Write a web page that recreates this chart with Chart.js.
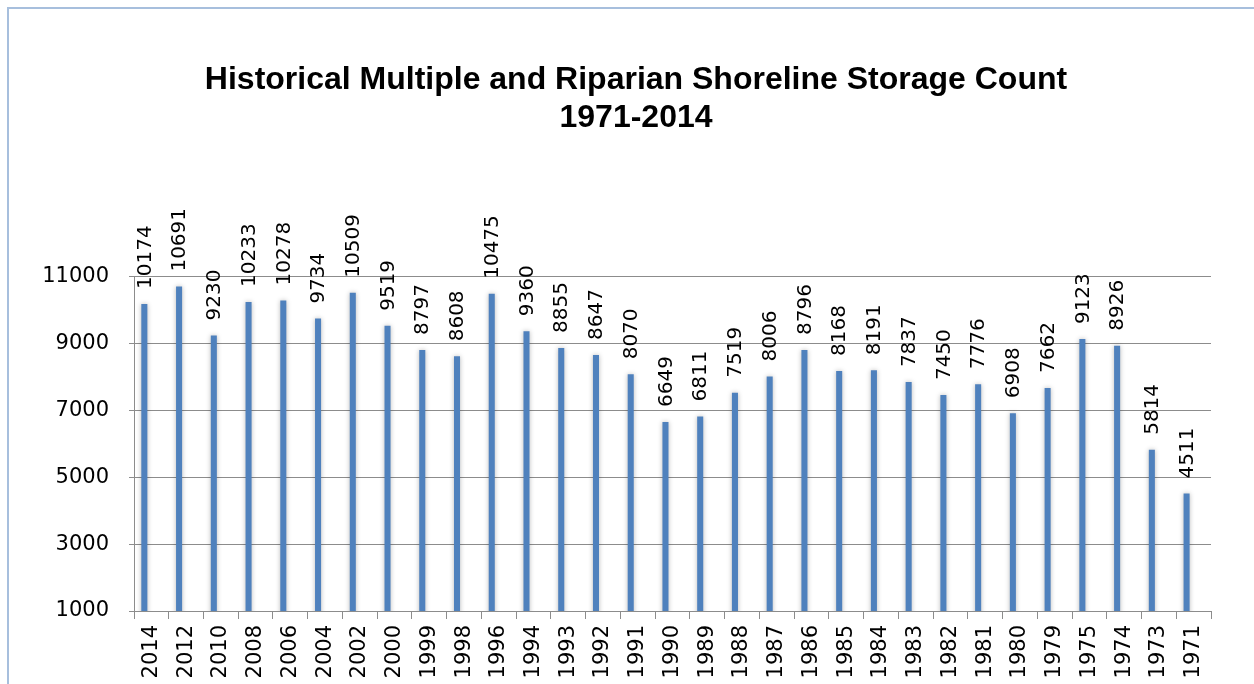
<!DOCTYPE html>
<html>
<head>
<meta charset="utf-8">
<title>Historical Multiple and Riparian Shoreline Storage Count</title>
<script src="https://cdn.jsdelivr.net/npm/chart.js@4/dist/chart.umd.min.js"></script>
<style>
  html, body { margin: 0; padding: 0; background: #fff; overflow: hidden; }
  #wrap { position: relative; width: 1254px; height: 684px; }
  #frame {
    position: absolute; left: 7px; top: 7px; right: -10px; bottom: -10px;
    border-top: 2px solid #a7bfdd; border-left: 2px solid #a7bfdd;
    pointer-events: none;
  }
  canvas { display: block; }
</style>
</head>
<body>
<div id="wrap">
  <canvas id="chart" width="1254" height="684"></canvas>
  <div id="frame"></div>
</div>
<script>
// ── Data ────────────────────────────────────────────────
const YEARS = [
  '2014', '2012', '2010', '2008', '2006', '2004', '2002', '2000', '1999', '1998',
  '1996', '1994', '1993', '1992', '1991', '1990', '1989', '1988', '1987', '1986',
  '1985', '1984', '1983', '1982', '1981', '1980', '1979', '1975', '1974', '1973', '1971',
];
const STORAGE_COUNT = [
  10174, 10691, 9230, 10233, 10278, 9734, 10509, 9519, 8797, 8608,
  10475, 9360, 8855, 8647, 8070, 6649, 6811, 7519, 8006, 8796,
  8168, 8191, 7837, 7450, 7776, 6908, 7662, 9123, 8926, 5814, 4511,
];
const Y_TICKS = [1000, 3000, 5000, 7000, 9000, 11000];
const TITLE_LINES = ['Historical Multiple and Riparian Shoreline Storage Count', '1971-2014'];

const BAR_BLUE = '#4f81bd';
const GRID_GRAY = '#8c8c8c';
const TICK_FONT = { family: '"DejaVu Sans", sans-serif', size: 21 };

// ── Plugins ─────────────────────────────────────────────
// soft glow around the bars, like the Excel shadow effect
const barShadow = {
  id: 'barShadow',
  beforeDatasetsDraw(chart) {
    const ctx = chart.ctx;
    ctx.save();
    ctx.shadowColor = 'rgba(0,0,0,0.28)';
    ctx.shadowBlur = 5;
    ctx.shadowOffsetX = 0;
    ctx.shadowOffsetY = 0;
  },
  afterDatasetsDraw(chart) {
    chart.ctx.restore();
  },
};

// vertical value labels above each bar
const valueLabels = {
  id: 'valueLabels',
  afterDatasetsDraw(chart) {
    const ctx = chart.ctx;
    const meta = chart.getDatasetMeta(0);
    ctx.save();
    ctx.shadowColor = 'transparent';
    ctx.fillStyle = '#000';
    ctx.font = '20px "DejaVu Sans", sans-serif';
    ctx.textAlign = 'left';
    ctx.textBaseline = 'middle';
    meta.data.forEach((bar, i) => {
      ctx.save();
      ctx.translate(bar.x + 1, bar.y - 15);
      ctx.rotate(-Math.PI / 2);
      ctx.fillText(String(STORAGE_COUNT[i]), 0, 0);
      ctx.restore();
    });
    ctx.restore();
  },
};

// ── Chart ───────────────────────────────────────────────
const ctx = document.getElementById('chart').getContext('2d');
new Chart(ctx, {
  type: 'bar',
  data: {
    labels: YEARS,
    datasets: [
      {
        label: 'Storage Count',
        data: STORAGE_COUNT,
        backgroundColor: BAR_BLUE,
        borderWidth: 0,
        barPercentage: 0.43,
        categoryPercentage: 0.81,
      },
      // Excel left an empty second series slot, so bars sit left of the tick label
      {
        label: '',
        data: [],
        backgroundColor: 'transparent',
        barPercentage: 0.43,
        categoryPercentage: 0.81,
      },
    ],
  },
  options: {
    responsive: false,
    animation: false,
    layout: { padding: { left: 18, right: 0, top: 0, bottom: 0 } },
    plugins: {
      legend: { display: false },
      tooltip: { enabled: false },
      title: {
        display: true,
        text: TITLE_LINES,
        color: '#000',
        font: { family: '"Liberation Sans", Arial, sans-serif', size: 32, weight: 'bold', lineHeight: 1.16 },
        padding: { top: 62, bottom: 140 },
      },
    },
    scales: {
      x: {
        grid: {
          display: true,
          drawOnChartArea: false,
          drawTicks: true,
          tickLength: 8,
          color: GRID_GRAY,
          offset: true,
        },
        border: { display: true, color: GRID_GRAY, width: 1 },
        ticks: {
          color: '#000',
          font: TICK_FONT,
          minRotation: 90,
          maxRotation: 90,
          autoSkip: false,
          padding: 6,
        },
        afterFit(scale) { scale.height = 73; },
      },
      y: {
        min: 1000,
        max: 11000,
        afterBuildTicks(scale) { scale.ticks = Y_TICKS.map((v) => ({ value: v })); },
        grid: { color: GRID_GRAY, tickLength: 5, lineWidth: 1 },
        border: { display: true, color: GRID_GRAY, width: 1 },
        ticks: {
          color: '#000',
          font: TICK_FONT,
          padding: 20,
          callback: (v) => String(v),
        },
        afterFit(scale) { scale.width = 116; },
      },
      // blank right margin so the chart area ends where the original does
      yRight: {
        position: 'right',
        display: true,
        min: 1000,
        max: 11000,
        grid: { drawOnChartArea: false, drawTicks: false },
        border: { display: false },
        ticks: { display: false },
        afterFit(scale) { scale.width = 43; },
      },
    },
  },
  plugins: [barShadow, valueLabels],
});
</script>
</body>
</html>
